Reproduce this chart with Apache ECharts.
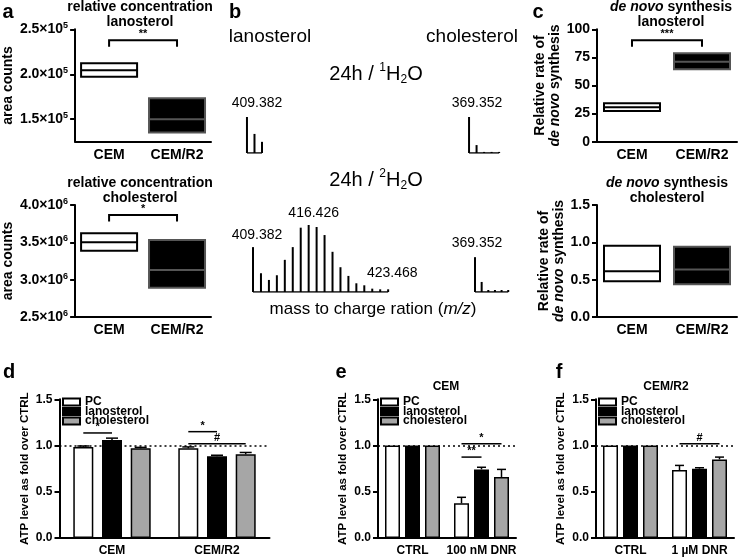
<!DOCTYPE html>
<html><head><meta charset="utf-8">
<script src="https://cdn.jsdelivr.net/npm/echarts@6.0.0/dist/echarts.min.js"></script>
<style>html,body{margin:0;padding:0;background:#fff;}#chart{width:738px;height:557px;}</style>
</head><body><div id="chart"></div>
<script>
// ---------------- data ----------------
const boxCategories = ['CEM', 'CEM/R2'];
// [min, median, max]
const lanConcCEM = [1.973e5, 2.044e5, 2.122e5];
const lanConcR2 = [1.351e5, 1.500e5, 1.733e5];
const cholConcCEM = [3.388e6, 3.500e6, 3.621e6];
const cholConcR2 = [2.893e6, 3.130e6, 3.531e6];
const lanSynthCEM = [27.3, 30.6, 34.2];
const lanSynthR2 = [64.4, 71.2, 78.6];
const cholSynthCEM = [0.48, 0.614, 0.953];
const cholSynthR2 = [0.439, 0.636, 0.94];
const lanConcTicks = [1.5e5, 2.0e5, 2.5e5];
// [cat1, cat2, y, label]
const lanConcSig = [0, 1, 2.378e5, '**'];
const cholConcSig = [0, 1, 3.866e6, '*'];
const lanSynthSig = [0, 1, 90.2, '***'];

// spectra (m/z, relative intensity)
const lanMz1H = [409.382, 410.385, 411.389];
const lanInt1H = [100, 53, 31];
const cholMz1H = [369.352, 370.355, 371.358, 372.361, 373.364];
const cholInt1H = [100, 22, 3, 3, 3];
const lanMz2H = [409.382, 410.388, 411.395, 412.401, 413.407, 414.413, 415.420, 416.426, 417.432, 418.438, 419.445, 420.451, 421.457, 422.463, 423.468, 424.475, 425.481, 426.487];
const lanInt2H = [67, 28, 18, 25, 48, 67, 96, 100, 97, 85, 60, 37, 24, 13, 10, 5, 4, 4];
const cholMz2H = [369.352, 370.358, 371.365, 372.371, 373.377, 374.383];
const cholInt2H = [52, 15, 3, 3, 3, 3];

// ATP levels
const seriesNames = ['PC', 'lanosterol', 'cholesterol'];
const dCats = ['CEM', 'CEM/R2'];
const dPC = [0.985, 0.97], dLan = [1.06, 0.885], dChol = [0.97, 0.905];
const dPCErr = [0.995, 0.985], dLanErr = [1.08, 0.895], dCholErr = [0.98, 0.925];
const dSig = [[0, 0, 1, 1.136, '*'], [1, 0, 1, 1.15, '*'], [1, 0, 2, 1.02, '#']];
const eCats = ['CTRL', '100 nM DNR'];
const ePC = [1, 0.375], eLan = [1, 0.742], eChol = [1, 0.66];
const ePCErr = [null, 0.44], eLanErr = [null, 0.765], eCholErr = [null, 0.742];
const eSig = [[1, 0, 1, 0.875, '**'], [1, 0, 2, 1.02, '*']];
const fCats = ['CTRL', '1 µM DNR'];
const fPC = [1, 0.735], fLan = [1, 0.75], fChol = [1, 0.85];
const fPCErr = [null, 0.785], fLanErr = [null, 0.76], fCholErr = [null, 0.875];
const fSig = [[1, 0, 2, 1.02, '#']];

// ---------------- style / layout ----------------
const FONT = '"Liberation Sans", Arial, Helvetica, sans-serif';
const grids = [
  {left: 70, top: 29.3, width: 141, height: 112.4},   // 0 a top
  {left: 70, top: 205, width: 141, height: 112},      // 1 a bottom
  {left: 597, top: 29.3, width: 140, height: 112.4},  // 2 c top
  {left: 597, top: 205, width: 140, height: 112},     // 3 c bottom
  {left: 59.5, top: 399.3, width: 210, height: 140},  // 4 d
  {left: 378, top: 399.3, width: 138, height: 140},   // 5 e
  {left: 596, top: 399.3, width: 138, height: 140},   // 6 f
  {left: 236.6, top: 117, width: 37.5, height: 36},   // 7 spectrum
  {left: 458.9, top: 117, width: 52.5, height: 36},   // 8
  {left: 242.1, top: 225, width: 158, height: 67},    // 9
  {left: 466.1, top: 225, width: 52.8, height: 67}    // 10
];
const specRanges = [[408, 413], [368, 375], [408, 428], [368, 376]];

const axisLineS = {lineStyle: {color: '#000', width: 2}};
const tickS = {lineStyle: {color: '#000', width: 2}, length: 5};

function catAxis(gi, cats, fs, margin) {
  return {type: 'category', gridIndex: gi, data: cats, axisLine: axisLineS,
    axisTick: Object.assign({alignWithLabel: true}, tickS),
    axisLabel: {interval: 0, color: '#000', fontWeight: 'bold', fontSize: fs, fontFamily: FONT, margin: margin},
    splitLine: {show: false}};
}
function valAxis(gi, min, max, interval, fs, name, nameGap, nameFs, fmt, rich, custom, isRichName) {
  const nts = {color: '#000', fontWeight: 'bold', fontSize: nameFs, fontFamily: FONT, lineHeight: 15};
  if (isRichName) {
    nts.rich = {n: {fontWeight: 'bold', fontSize: nameFs, fontFamily: FONT, color: '#000', lineHeight: 15},
      i: {fontWeight: 'bold', fontStyle: 'italic', fontSize: nameFs, fontFamily: FONT, color: '#000', lineHeight: 15}};
  }
  const ax = {type: 'value', gridIndex: gi, min: min, max: max, interval: interval,
    axisLine: Object.assign({show: true}, axisLineS),
    axisTick: Object.assign({show: true}, tickS),
    axisLabel: {color: '#000', fontWeight: 'bold', fontSize: fs, fontFamily: FONT, margin: 7},
    splitLine: {show: false},
    name: name, nameLocation: 'middle', nameGap: nameGap, nameRotate: 90, nameTextStyle: nts};
  if (fmt) ax.axisLabel.formatter = fmt;
  if (rich) ax.axisLabel.rich = rich;
  if (custom) { ax.axisTick.customValues = custom; ax.axisLabel.customValues = custom; delete ax.interval; }
  return ax;
}
const supRich = {m: {fontSize: 14, fontWeight: 'bold', fontFamily: FONT, color: '#000', lineHeight: 16},
                 s: {fontSize: 9, fontWeight: 'bold', fontFamily: FONT, color: '#000', verticalAlign: 'top', lineHeight: 9}};

function boxSeries(gi, cemArr, r2Arr) {
  return {type: 'boxplot', xAxisIndex: gi, yAxisIndex: gi, boxWidth: [56, 56],
    itemStyle: {color: '#fff', borderColor: '#000', borderWidth: 2},
    data: [
      {value: [cemArr[0], cemArr[0], cemArr[1], cemArr[2], cemArr[2]]},
      {value: [r2Arr[0], r2Arr[0], r2Arr[1], r2Arr[2], r2Arr[2]], itemStyle: {color: '#000', borderColor: '#555', borderWidth: 2}}
    ]};
}
function bracketSeries(gi, it) {
  return {type: 'custom', xAxisIndex: gi, yAxisIndex: gi, z: 5, data: [[it[0], it[2]]],
    encode: {x: 0, y: 1},
    renderItem: function (params, api) {
      const p1 = api.coord([it[0], it[2]]), p2 = api.coord([it[1], it[2]]);
      const drop = 6.5;
      return {type: 'group', children: [
        {type: 'polyline', shape: {points: [[p1[0], p1[1] + drop], [p1[0], p1[1]], [p2[0], p2[1]], [p2[0], p2[1] + drop]]},
          style: {stroke: '#000', lineWidth: 2, fill: null}},
        {type: 'text', x: (p1[0] + p2[0]) / 2, y: p1[1] - 1,
          style: {text: it[3], align: 'center', verticalAlign: 'bottom', font: 'bold 11px ' + FONT, fill: '#000'}}
      ]};
    }};
}

const barStyles = [
  {color: '#fff', borderColor: '#000', borderWidth: 1.5},
  {color: '#000', borderColor: '#000', borderWidth: 1.5},
  {color: '#a6a6a6', borderColor: '#000', borderWidth: 1.5}
];
function atpSeries(gi, vals, errs, sig, barW, gap) {
  const pitch = barW + gap;
  const out = [];
  vals.forEach(function (v, s) {
    const ser = {type: 'bar', name: seriesNames[s], xAxisIndex: gi, yAxisIndex: gi, data: v,
      barWidth: barW, barGap: (gap / barW * 100) + '%', itemStyle: barStyles[s]};
    if (s === 0) {
      ser.markLine = {silent: true, symbol: 'none', label: {show: false},
        lineStyle: {type: [2, 3], color: '#000', width: 1.5}, data: [{yAxis: 1}]};
    }
    out.push(ser);
    const ed = [];
    errs[s].forEach(function (t, c) { if (t !== null) ed.push([c, v[c], t]); });
    out.push({type: 'custom', xAxisIndex: gi, yAxisIndex: gi, z: 4, data: ed, encode: {x: 0, y: 2},
      renderItem: function (params, api) {
        const c = api.value(0);
        const b = api.coord([c, api.value(1)]), t = api.coord([c, api.value(2)]);
        const x = b[0] + (s - 1) * pitch, cap = barW * 0.6;
        return {type: 'group', children: [
          {type: 'line', shape: {x1: x, y1: b[1], x2: x, y2: t[1]}, style: {stroke: '#000', lineWidth: 1.5}},
          {type: 'line', shape: {x1: x - cap / 2, y1: t[1], x2: x + cap / 2, y2: t[1]}, style: {stroke: '#000', lineWidth: 1.5}}
        ]};
      }});
  });
  out.push({type: 'custom', xAxisIndex: gi, yAxisIndex: gi, z: 6, data: sig.map(function (it) { return [it[0], it[3]]; }),
    encode: {x: 0, y: 1},
    renderItem: function (params, api) {
      const it = sig[params.dataIndex];
      const c = api.coord([it[0], it[3]]);
      const x1 = c[0] + (it[1] - 1) * pitch, x2 = c[0] + (it[2] - 1) * pitch;
      return {type: 'group', children: [
        {type: 'line', shape: {x1: x1, y1: c[1], x2: x2, y2: c[1]}, style: {stroke: '#000', lineWidth: 1.5}},
        {type: 'text', x: (x1 + x2) / 2, y: c[1] - 0.5,
          style: {text: it[4], align: 'center', verticalAlign: 'bottom', font: 'bold 11px ' + FONT, fill: '#000'}}
      ]};
    }});
  return out;
}

function specSeries(gi, mz, inten, labels) {
  const data = mz.map(function (m, i) {
    const item = {value: [m, inten[i]]};
    if (labels[i]) {
      item.label = {show: true, position: 'top', offset: labels[i], fontSize: 14, fontFamily: FONT, color: '#000',
        formatter: function (p) { return p.value[0].toFixed(3); }};
    }
    return item;
  });
  return [
    {type: 'bar', xAxisIndex: gi, yAxisIndex: gi, barWidth: 2, data: data, itemStyle: {color: '#000'}},
    {type: 'line', xAxisIndex: gi, yAxisIndex: gi, symbol: 'none', data: [[mz[0], 0], [mz[mz.length - 1], 0]],
      lineStyle: {color: '#000', width: 1.5}}
  ];
}

// ---------------- axes ----------------
const xAxes = [
  catAxis(0, boxCategories, 14, 6), catAxis(1, boxCategories, 14, 6),
  catAxis(2, boxCategories, 14, 6), catAxis(3, boxCategories, 14, 6),
  catAxis(4, dCats, 12, 7), catAxis(5, eCats, 12, 7), catAxis(6, fCats, 12, 7)
];
const synthName = '{n|Relative rate of}\n{i|de novo}{n| synthesis}';
const fmt1 = function (v) { return v.toFixed(1); };
const yAxes = [
  valAxis(0, 1.25e5, 2.5e5, 0.5e5, 14, 'area counts', 56, 14,
    function (v) { return '{m|' + (v / 1e5).toFixed(1) + '×10}{s|5}'; }, supRich, lanConcTicks),
  valAxis(1, 2.5e6, 4.0e6, 0.5e6, 14, 'area counts', 56, 14,
    function (v) { return '{m|' + (v / 1e6).toFixed(1) + '×10}{s|6}'; }, supRich),
  valAxis(2, 0, 100, 25, 14, synthName, 27, 14, null, null, null, true),
  valAxis(3, 0, 1.5, 0.5, 14, synthName, 27, 14, fmt1, null, null, true),
  valAxis(4, 0, 1.5, 0.5, 12, 'ATP level as fold over CTRL', 22, 11.5, fmt1),
  valAxis(5, 0, 1.5, 0.5, 12, 'ATP level as fold over CTRL', 22, 11.5, fmt1),
  valAxis(6, 0, 1.5, 0.5, 12, 'ATP level as fold over CTRL', 22, 11.5, fmt1)
];
specRanges.forEach(function (r, k) {
  xAxes.push({type: 'value', gridIndex: 7 + k, min: r[0], max: r[1], show: false});
  yAxes.push({type: 'value', gridIndex: 7 + k, min: 0, max: 100, show: false});
});

// ---------------- series ----------------
let series = [];
series.push(boxSeries(0, lanConcCEM, lanConcR2), bracketSeries(0, lanConcSig));
series.push(boxSeries(1, cholConcCEM, cholConcR2), bracketSeries(1, cholConcSig));
series.push(boxSeries(2, lanSynthCEM, lanSynthR2), bracketSeries(2, lanSynthSig));
series.push(boxSeries(3, cholSynthCEM, cholSynthR2));
series = series.concat(atpSeries(4, [dPC, dLan, dChol], [dPCErr, dLanErr, dCholErr], dSig, 20, 8.7));
series = series.concat(atpSeries(5, [ePC, eLan, eChol], [ePCErr, eLanErr, eCholErr], eSig, 15, 5));
series = series.concat(atpSeries(6, [fPC, fLan, fChol], [fPCErr, fLanErr, fCholErr], fSig, 15, 5));
series = series.concat(specSeries(7, lanMz1H, lanInt1H, {0: [10, -2]}));
series = series.concat(specSeries(8, cholMz1H, cholInt1H, {0: [8, -2]}));
series = series.concat(specSeries(9, lanMz2H, lanInt2H, {0: [4, 0], 7: [5, 0], 14: [28, 0]}));
series = series.concat(specSeries(10, cholMz2H, cholInt2H, {0: [2, -2]}));

// ---------------- text ----------------
function txt(x, y, text, font, extra) {
  return {type: 'text', x: x, y: y, silent: true,
    style: Object.assign({text: text, font: font, fill: '#000', align: 'center', verticalAlign: 'middle'}, extra || {})};
}
const B14 = 'bold 14px ' + FONT;
const richB = {b: {font: B14, fill: '#000', lineHeight: 15}, i: {font: 'italic bold 14px ' + FONT, fill: '#000', lineHeight: 15}};
const richH = function (fs) {
  return {n: {font: fs + 'px ' + FONT, fill: '#000', lineHeight: 24},
    sup: {font: Math.round(fs * 0.6) + 'px ' + FONT, fill: '#000', verticalAlign: 'top', lineHeight: 14},
    sub: {font: Math.round(fs * 0.6) + 'px ' + FONT, fill: '#000', verticalAlign: 'bottom', lineHeight: 8}};
};
const graphics = [
  txt(8, 12, 'a', 'bold 20px ' + FONT), txt(235, 12, 'b', 'bold 20px ' + FONT), txt(538, 12, 'c', 'bold 20px ' + FONT),
  txt(9, 372, 'd', 'bold 20px ' + FONT), txt(341, 372, 'e', 'bold 20px ' + FONT), txt(559, 372, 'f', 'bold 20px ' + FONT),
  txt(140, 15, 'relative concentration\nlanosterol', B14, {lineHeight: 15}),
  txt(140, 190.5, 'relative concentration\ncholesterol', B14, {lineHeight: 15}),
  txt(671, 15, '{i|de novo}{b| synthesis}\n{b|lanosterol}', B14, {rich: richB}),
  txt(667, 190.5, '{i|de novo}{b| synthesis}\n{b|cholesterol}', B14, {rich: richB}),
  txt(270, 37, 'lanosterol', '19px ' + FONT),
  txt(472, 37, 'cholesterol', '19px ' + FONT),
  txt(376, 74, '{n|24h / }{sup|1}{n|H}{sub|2}{n|O}', '20px ' + FONT, {rich: richH(20)}),
  txt(376, 180, '{n|24h / }{sup|2}{n|H}{sub|2}{n|O}', '20px ' + FONT, {rich: richH(20)}),
  txt(373, 309, '{n|mass to charge ration (}{i|m/z}{n|)}', '17px ' + FONT,
    {rich: {n: {font: '17px ' + FONT, fill: '#000'}, i: {font: 'italic 17px ' + FONT, fill: '#000'}}}),
  txt(446, 387, 'CEM', 'bold 12px ' + FONT),
  txt(666, 387, 'CEM/R2', 'bold 12px ' + FONT)
];

const legendBase = {orient: 'vertical', icon: 'rect', itemWidth: 17, itemHeight: 7, itemGap: -2.5, padding: 0,
  data: seriesNames, selectedMode: false,
  textStyle: {fontSize: 12, fontWeight: 'bold', fontFamily: FONT, color: '#000'}};

const option = {
  animation: false,
  backgroundColor: '#fff',
  textStyle: {fontFamily: FONT},
  grid: grids.map(function (g) { return Object.assign({containLabel: false}, g); }),
  xAxis: xAxes,
  yAxis: yAxes,
  legend: [
    Object.assign({left: 62, top: 396}, legendBase),
    Object.assign({left: 380, top: 396}, legendBase),
    Object.assign({left: 598, top: 396}, legendBase)
  ],
  series: series,
  graphic: graphics
};
const chart = echarts.init(document.getElementById('chart'));
chart.setOption(option);
</script></body></html>
